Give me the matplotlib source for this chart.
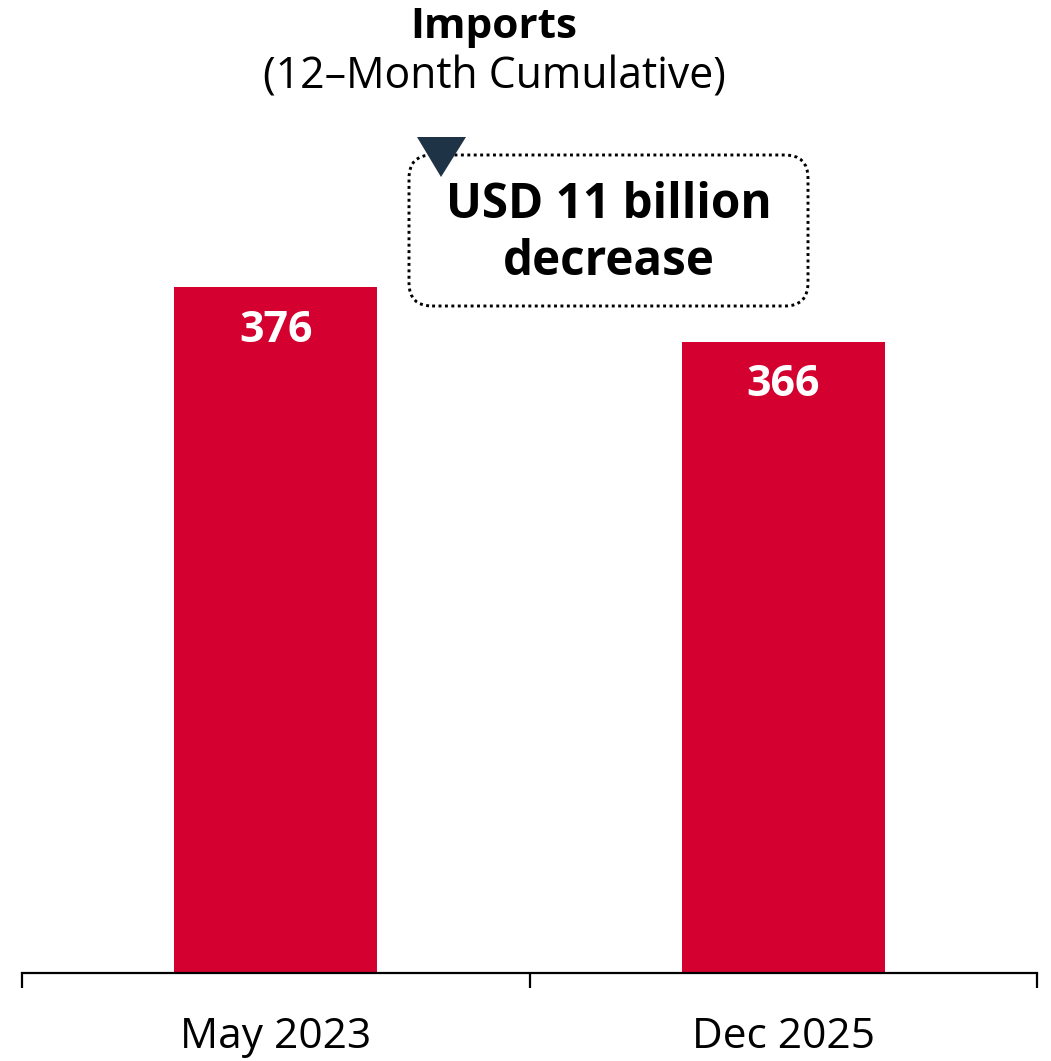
import matplotlib.pyplot as plt
from matplotlib.patches import FancyBboxPatch, Polygon

plt.rcParams['font.family'] = ['Open Sans', 'DejaVu Sans']

periods = ['May 2023', 'Dec 2025']
imports = [376, 366]
change_text = 'USD 11 billion\ndecrease'

bar_color = '#d40030'
dark = '#1f3347'

fig = plt.figure(figsize=(10.51, 10.61), dpi=100)
fig.patch.set_facecolor('white')
W, H = 1051, 1061

# axes placed so the baseline sits near the bottom and the axis spans the width
ax = fig.add_axes([22 / W, (H - 973) / H, (1037 - 22) / W, 871 / H])
x = range(len(periods))
bars = ax.bar(x, imports, width=0.4, color=bar_color, zorder=2)
ax.set_xlim(-0.5, len(periods) - 0.5)
ax.set_ylim(250, 410)

for rect, val in zip(bars, imports):
    ax.annotate(f'{val}', xy=(rect.get_x() + rect.get_width() / 2, val),
                xytext=(0, -31), textcoords='offset points',
                ha='center', va='center', color='white',
                fontsize=31, fontweight='bold')

# category labels without ticks, boundary ticks between categories
ax.set_xticks(list(x))
ax.set_xticklabels(periods, fontsize=30.5)
ax.tick_params(axis='x', which='major', length=0, pad=31)
ax.set_xticks([i - 0.5 for i in range(len(periods) + 1)], minor=True)
ax.tick_params(axis='x', which='minor', length=11, width=1.6, color='black')
ax.set_yticks([])
for side in ['top', 'right', 'left']:
    ax.spines[side].set_visible(False)
ax.spines['bottom'].set_linewidth(1.6)

# title
fig.text(494 / W, 1 - 28 / H, 'Imports', ha='center', va='center',
         fontsize=30.5, fontweight='bold')
fig.text(494 / W, 1 - 77 / H, '(12\u2013Month Cumulative)', ha='center',
         va='center', fontsize=30.8)

# callout box with the change
box = FancyBboxPatch((409 / W, 1 - 306 / H), (808 - 409) / W, (306 - 155) / H,
                     boxstyle='round,pad=0,rounding_size=0.022',
                     transform=fig.transFigure, facecolor='white',
                     edgecolor='black', linestyle=(0, (1, 1.2)), linewidth=2.1)
fig.patches.append(box)
fig.text(609 / W, 1 - 234 / H, change_text, ha='center', va='center',
         fontsize=34.3, fontweight='bold', linespacing=1.2)
tri = Polygon([(417 / W, 1 - 137 / H), (466 / W, 1 - 137 / H),
               (441 / W, 1 - 177 / H)], closed=True,
              transform=fig.transFigure, facecolor=dark, edgecolor='none')
fig.patches.append(tri)

plt.savefig('out.png', dpi=100)
